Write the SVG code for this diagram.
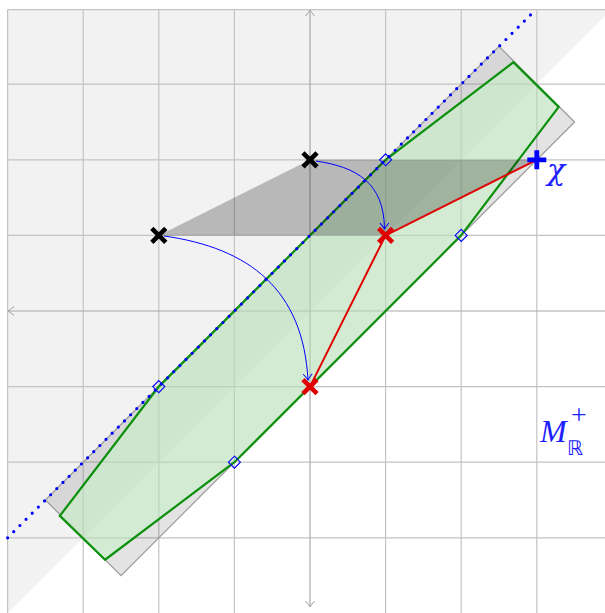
<svg xmlns="http://www.w3.org/2000/svg" width="605" height="613" viewBox="0 0 605 613">
<defs>
<style>
.grid{stroke:#c4c4c4;stroke-width:1.2;fill:none}
.axis{stroke:#a8a8a8;stroke-width:1.2;fill:none}
.bx{stroke:#000;stroke-width:4.6;stroke-linecap:butt}
.rx{stroke:#e00000;stroke-width:4.6}
.dia{fill:none;stroke:#0000ff;stroke-width:1.1}
.lbl{font-family:"Liberation Serif","DejaVu Serif",serif;font-style:italic;fill:#2020ff}
</style>
<marker id="ah" viewBox="-8 -6 10 12" markerWidth="10" markerHeight="12" refX="0" refY="0" orient="auto" markerUnits="userSpaceOnUse">
<path d="M -6 -4.5 Q -2 -1 0 0 Q -2 1 -6 4.5" fill="none" stroke="#0000ff" stroke-width="1"/>
</marker>
<marker id="axh" viewBox="-8 -6 10 12" markerWidth="10" markerHeight="12" refX="0" refY="0" orient="auto" markerUnits="userSpaceOnUse">
<path d="M -6 -4.5 Q -2 -1 0 0 Q -2 1 -6 4.5" fill="none" stroke="#a0a0a0" stroke-width="1"/>
</marker>
</defs>
<rect x="0" y="0" width="605" height="613" fill="#fff"/>
<polygon points="7.6,9.6 605,9.6 605,16 7.6,613.4" fill="#f2f2f2"/>
<g id="grid">
<path class="grid" d="M7.6 9.6V613M83.2 9.6V613M158.8 9.6V613M234.4 9.6V613M385.6 9.6V613M461.2 9.6V613M536.8 9.6V613M7.6 9.6H605M7.6 84.2H605M7.6 159.8H605M7.6 235.4H605M7.6 386.6H605M7.6 462.2H605M7.6 537.8H605"/>
</g>
<g id="axes">
<line class="axis" x1="310" y1="311" x2="310" y2="10" marker-end="url(#axh)"/>
<line class="axis" x1="310" y1="311" x2="310" y2="607" marker-end="url(#axh)"/>
<line class="axis" x1="310" y1="311" x2="8" y2="311" marker-end="url(#axh)"/>
<line class="axis" x1="310" y1="311" x2="605" y2="311"/>
</g>
<g id="band">
<polygon points="499,46.4 574.6,122 121,575.6 45.4,500" fill="#000" fill-opacity="0.11" stroke="#9a9a9a" stroke-width="1.2"/>
</g>
<g id="region">
<polygon points="59.8,515.9 158.8,386.6 385.6,159.8 513.4,62.3 558.7,106.9 461.2,235.4 234.4,462.2 105.1,559.7" fill="rgb(197,243,197)" fill-opacity="0.55" stroke="#0a900a" stroke-width="2.2" stroke-linejoin="miter"/>
</g>
<g id="shadow">
<polygon points="158.8,235.4 310,159.8 536.8,159.8 385.6,235.4" fill="#000" fill-opacity="0.24"/>
</g>
<g id="lightray">
<line x1="7.6" y1="537.8" x2="533" y2="12.4" stroke="#0000ff" stroke-width="3.2" stroke-linecap="round" stroke-dasharray="0 8.7"/>
</g>
<g id="connectors">
<polyline points="310,386.6 385.6,235.4 536.8,159.8" fill="none" stroke="#e00000" stroke-width="2"/>
<path d="M 316 161 C 356 167, 384 182, 384.5 229" fill="none" stroke="#0000ff" stroke-width="1" marker-end="url(#ah)"/>
<path d="M 164 236 C 250 248, 303 290, 308 380" fill="none" stroke="#0000ff" stroke-width="1" marker-end="url(#ah)"/>
</g>
<g id="diamonds">
<path class="dia" d="M158.8 380.6L164.8 386.6L158.8 392.6L152.8 386.6Z"/>
<path class="dia" d="M385.6 153.8L391.6 159.8L385.6 165.8L379.6 159.8Z"/>
<path class="dia" d="M234.4 456.2L240.4 462.2L234.4 468.2L228.4 462.2Z"/>
<path class="dia" d="M461.2 229.4L467.2 235.4L461.2 241.4L455.2 235.4Z"/>
</g>
<g id="p1"><path class="bx" d="M303 152.8L317 166.8M317 152.8L303 166.8"/></g>
<g id="p2"><path class="bx" d="M151.8 228.4L165.8 242.4M165.8 228.4L151.8 242.4"/></g>
<g id="q1"><path class="rx" d="M378.6 228.4L392.6 242.4M392.6 228.4L378.6 242.4"/></g>
<g id="q2"><path class="rx" d="M303 379.6L317 393.6M317 379.6L303 393.6"/></g>
<g id="chi">
<path d="M527.3 159.8H546.3M536.8 150.3V169.3" stroke="#0000ff" stroke-width="4.8"/>
<text x="547" y="180" font-size="30" font-style="italic" font-family="'DejaVu Serif','Liberation Serif',serif" fill="#2020ff">χ</text>
</g>
<g id="mlabel">
<text class="lbl" x="540" y="442" font-size="32">M</text>
<text x="567" y="455" font-size="20" font-family="'DejaVu Sans',sans-serif" fill="#2020ff">ℝ</text>
<text x="571" y="424" font-size="28" font-family="'Liberation Serif',serif" fill="#2020ff">+</text>
</g>
</svg>
